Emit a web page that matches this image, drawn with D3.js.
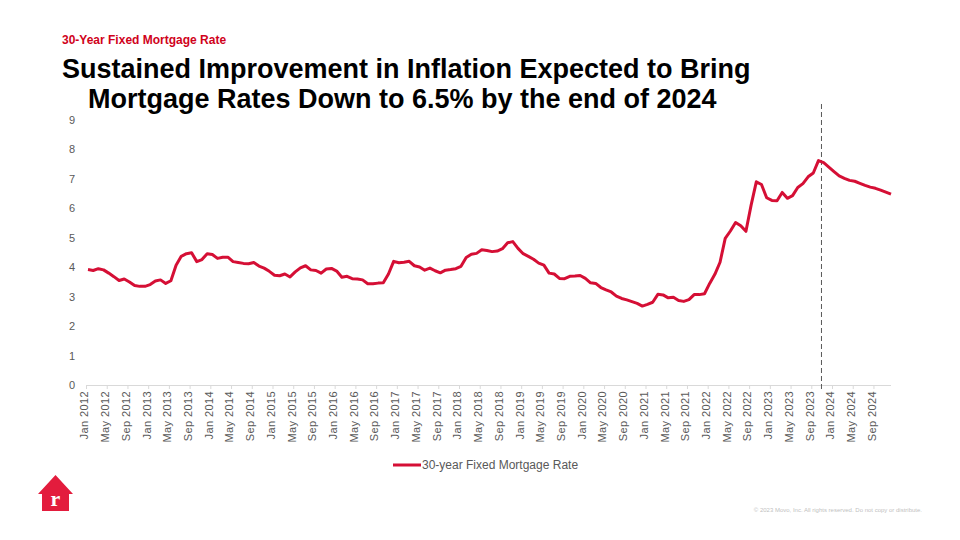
<!DOCTYPE html>
<html><head><meta charset="utf-8">
<script src="https://cdn.jsdelivr.net/npm/d3@7"></script>
<style>body{margin:0;background:#fff}svg{font-family:Arial,"Liberation Sans",sans-serif}</style>
</head><body><svg width="960" height="540"></svg>
<script>
const startYear = 2012;
const rates = [
3.92,3.89,3.95,3.91,3.80,3.68,3.55,3.60,3.50,3.38,3.35,3.35,
3.41,3.53,3.57,3.45,3.54,4.07,4.37,4.46,4.49,4.19,4.26,4.46,
4.43,4.30,4.34,4.34,4.19,4.16,4.13,4.12,4.16,4.04,3.97,3.86,
3.73,3.71,3.77,3.67,3.84,3.98,4.05,3.91,3.89,3.80,3.94,3.96,
3.87,3.66,3.69,3.61,3.60,3.57,3.44,3.44,3.46,3.47,3.77,4.20,
4.15,4.17,4.20,4.05,4.01,3.90,3.97,3.88,3.81,3.90,3.92,3.95,
4.03,4.33,4.44,4.47,4.59,4.57,4.53,4.55,4.63,4.83,4.87,4.64,
4.46,4.37,4.27,4.14,4.07,3.80,3.77,3.62,3.61,3.69,3.70,3.72,
3.62,3.47,3.45,3.31,3.23,3.16,3.02,2.94,2.89,2.83,2.77,2.68,
2.74,2.81,3.08,3.06,2.96,2.98,2.87,2.84,2.90,3.07,3.07,3.10,
3.45,3.76,4.17,4.98,5.23,5.52,5.41,5.22,6.11,6.90,6.81,6.36,
6.27,6.26,6.54,6.34,6.43,6.71,6.84,7.07,7.20,7.62,7.55,7.40,
7.25,7.10,7.02,6.95,6.92,6.85,6.78,6.72,6.68,6.62,6.55,6.48];
const monthNames = ["Jan","Feb","Mar","Apr","May","Jun","Jul","Aug","Sep","Oct","Nov","Dec"];
const labels = rates.map((_, i) => monthNames[i % 12] + " " + (startYear + Math.floor(i / 12)));
const forecastStart = "Oct 2023";
const yTicks = [0,1,2,3,4,5,6,7,8,9];

const svg = d3.select("svg");
const x = d3.scalePoint().domain(labels).range([88, 891]);
const y = d3.scaleLinear().domain([0, 9]).range([385, 120]);

svg.append("text").attr("x", 62).attr("y", 44).attr("fill", "#d0021b").attr("font-size", 12).attr("font-weight", "bold").text("30-Year Fixed Mortgage Rate");
svg.append("text").attr("x", 62).attr("y", 78).attr("font-size", 27).attr("font-weight", "bold").text("Sustained Improvement in Inflation Expected to Bring");
svg.append("text").attr("x", 88).attr("y", 108).attr("font-size", 27).attr("font-weight", "bold").text("Mortgage Rates Down to 6.5% by the end of 2024");

svg.selectAll(".yl").data(yTicks).join("text").attr("x", 75).attr("y", d => y(d) + 4)
  .attr("text-anchor", "end").attr("font-size", 11).attr("fill", "#595959").text(d => d);

const tickLabels = labels.filter((_, i) => i % 4 === 0);
const xa = svg.append("g").attr("transform", "translate(0,385)")
  .call(d3.axisBottom(x).tickValues(tickLabels).tickSize(4).tickSizeOuter(0));
xa.select(".domain").attr("stroke", "#d9d9d9").attr("d", "M86,0.5H891");
xa.selectAll(".tick line").attr("stroke", "#d9d9d9").attr("transform", "translate(-2,0)");
xa.selectAll(".tick text").attr("font-size", 11).attr("fill", "#595959").attr("letter-spacing", 0.4)
  .attr("transform", "rotate(-90)").attr("text-anchor", "end").attr("x", -6).attr("y", -4).attr("dy", "0.35em");

svg.append("line").attr("x1", x(forecastStart) + 3).attr("x2", x(forecastStart) + 3).attr("y1", 104).attr("y2", 390)
  .attr("stroke", "#595959").attr("stroke-dasharray", "5,3").attr("stroke-width", 1);

svg.append("path").datum(rates).attr("fill", "none").attr("stroke", "#d50f35").attr("stroke-width", 3)
  .attr("stroke-linejoin", "round")
  .attr("d", d3.line().x((d, i) => x(labels[i])).y(d => y(d)));

svg.append("line").attr("x1", 393).attr("x2", 421).attr("y1", 465).attr("y2", 465).attr("stroke", "#d50f35").attr("stroke-width", 3);
svg.append("text").attr("x", 422).attr("y", 469).attr("font-size", 12).attr("fill", "#595959").text("30-year Fixed Mortgage Rate");

const g = svg.append("g");
g.append("path").attr("d", "M38,494 L55.5,475 L73,494 L69,494 L69,511 L42,511 L42,494 Z").attr("fill", "#e31c3d");
g.append("text").attr("x", 55.5).attr("y", 506).attr("text-anchor", "middle").attr("fill", "#fff")
  .attr("font-family", "Liberation Serif,serif").attr("font-weight", "bold").attr("font-size", 22).text("r");

svg.append("text").attr("x", 922).attr("y", 512).attr("text-anchor", "end").attr("font-size", 6).attr("fill", "#bfbfbf")
  .text("© 2023 Movo, Inc. All rights reserved. Do not copy or distribute.");
</script></body></html>
